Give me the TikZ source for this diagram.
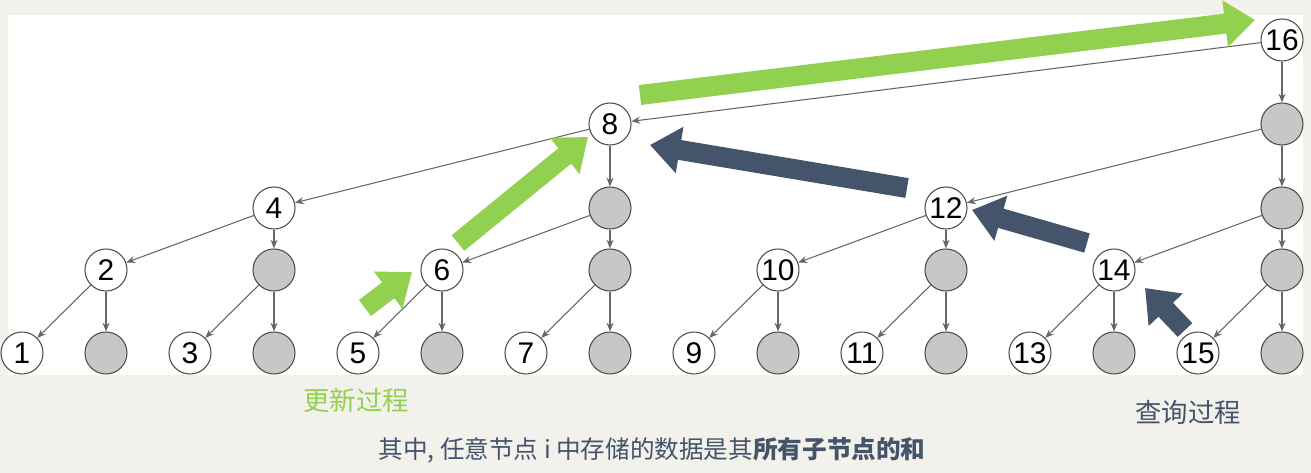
\documentclass[tikz,border=0pt]{standalone}
\usepackage{fontspec}
\setmainfont{Liberation Sans}
\newfontfamily\cjk{Noto Sans CJK SC}
\usetikzlibrary{arrows.meta}
\definecolor{PaperGray}{HTML}{F2F1EC}
\definecolor{UpdGreen}{HTML}{92D050}
\definecolor{QryNavy}{HTML}{44546A}
\tikzstyle{treeNode}=[draw=black!70,circle,fill=white,minimum size=0.42cm,inner sep=0pt,line width=0.3pt,font=\fontsize{8.5}{8.5}\selectfont]
\tikzstyle{greyNode}=[treeNode,fill=black!22]
\tikzstyle{treeEdge}=[-{Stealth[length=2.5pt,width=2pt]},draw=black!60,line width=0.3pt]
\tikzstyle{updArrow}=[-{Triangle[length=0.3cm,width=0.45cm]},draw=UpdGreen,line width=0.2cm]
\tikzstyle{qryArrow}=[updArrow,draw=QryNavy]

\begin{document}
\begin{tikzpicture}[x=0.01cm,y=-0.01cm]
    % Background
    \fill[PaperGray] (0,0) rectangle (1311,473);
    \fill[white] (8,15) rectangle (1303,375);
    \useasboundingbox (0,0) rectangle (1311,473);

    % Tree nodes: column c, level j
    \foreach \c in {1,...,16} {
        \pgfmathtruncatemacro{\xx}{22+84*(\c-1)}
        \foreach \j/\yy in {0/353,1/270,2/208,3/124,4/40} {
            \pgfmathtruncatemacro{\p}{2^\j}
            \pgfmathtruncatemacro{\isin}{mod(\c,\p)==0 ? 1 : 0}
            \pgfmathtruncatemacro{\isTop}{(mod(\c,2*\p)!=0 || (\c==16 && \j==4)) ? 1 : 0}
            \ifnum\isin=1
                \ifnum\isTop=1
                    \node[treeNode] (n-\c-\j) at (\xx,\yy) {\c};
                \else
                    \node[greyNode] (n-\c-\j) at (\xx,\yy) {};
                \fi
            \fi
        }
    }

    % Tree edges
    \foreach \c in {1,...,16} {
        \foreach \j in {1,...,4} {
            \pgfmathtruncatemacro{\p}{2^\j}
            \pgfmathtruncatemacro{\isin}{mod(\c,\p)==0 ? 1 : 0}
            \pgfmathtruncatemacro{\prev}{\j-1}
            \pgfmathtruncatemacro{\leftc}{\c-2^(\j-1)}
            \ifnum\isin=1
                \draw[treeEdge] (n-\c-\j) -- (n-\c-\prev);
                \draw[treeEdge] (n-\c-\j) -- (n-\leftc-\prev);
            \fi
        }
    }

    % Update arrows
    \coordinate (u1s) at (365,308); \coordinate (u1e) at (412,272);
    \coordinate (u2s) at (458,243); \coordinate (u2e) at (588,137);
    \coordinate (u3s) at (640,95);  \coordinate (u3e) at (1255,20);
    \draw[updArrow] (u1s) -- (u1e);
    \draw[updArrow] (u2s) -- (u2e);
    \draw[updArrow] (u3s) -- (u3e);

    % Query arrows
    \coordinate (q1s) at (1185,330); \coordinate (q1e) at (1145,288);
    \coordinate (q2s) at (1087,243); \coordinate (q2e) at (972,210);
    \coordinate (q3s) at (907,188);  \coordinate (q3e) at (650,145);
    \draw[qryArrow] (q1s) -- (q1e);
    \draw[qryArrow] (q2s) -- (q2e);
    \draw[qryArrow] (q3s) -- (q3e);

    % Labels
    \node[text=UpdGreen,font=\cjk\fontsize{7.5}{7.5}\selectfont] (updText) at (356,400) {更新过程};
    \node[text=QryNavy,font=\cjk\fontsize{7.5}{7.5}\selectfont] (qryText) at (1188,412) {查询过程};
    \node[text=QryNavy,font=\cjk\fontsize{7}{7}\selectfont] (noteText) at (652,450) {其中, 任意节点 i 中存储的数据是其\textbf{所有子节点的和}};
\end{tikzpicture}
\end{document}
